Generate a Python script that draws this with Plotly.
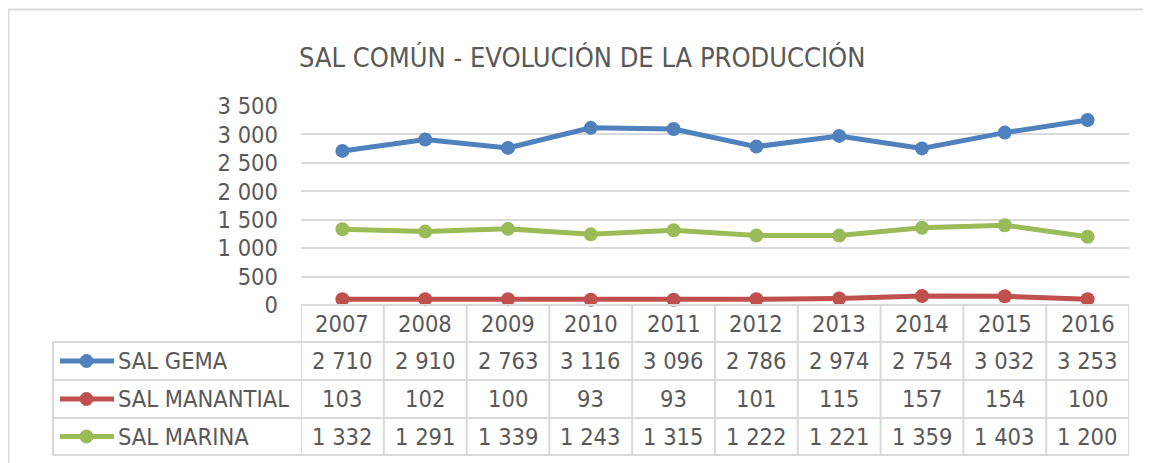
import plotly.graph_objects as go

years = ["2007", "2008", "2009", "2010", "2011", "2012", "2013", "2014", "2015", "2016"]
sal_gema = [2710, 2910, 2763, 3116, 3096, 2786, 2974, 2754, 3032, 3253]
sal_manantial = [103, 102, 100, 93, 93, 101, 115, 157, 154, 100]
sal_marina = [1332, 1291, 1339, 1243, 1315, 1222, 1221, 1359, 1403, 1200]
series_names = ["SAL GEMA", "SAL MANANTIAL", "SAL MARINA"]
series_values = [sal_gema, sal_manantial, sal_marina]
series_colors = ["#4f81bd", "#c0504d", "#9bbb59"]
y_ticks = [0, 500, 1000, 1500, 2000, 2500, 3000, 3500]
title_text = "SAL COMÚN - EVOLUCIÓN DE LA PRODUCCIÓN"

# page body has an 8px margin: the figure occupies the viewport minus that offset
OFF = 8
W, H = 1151 - OFF, 463 - OFF
FONT = "DejaVu Sans Condensed, Liberation Sans Narrow, Tahoma, DejaVu Sans, sans-serif"
TXT = "#595959"
GRID = "#d9d9d9"


def px(x):
    return (x - OFF) / W


def py(y):
    return 1 - (y - OFF) / H


def fmt(v):
    return f"{v:,}".replace(",", " ")


plot_left, plot_right = 301, 1129
plot_top, plot_bottom = 106, 305
row_lines = [305, 342, 380, 418, 455]
label_left = 53

fig = go.Figure()
for name, vals, col in zip(series_names, series_values, series_colors):
    fig.add_trace(go.Scatter(
        x=list(range(len(years))), y=vals, name=name, mode="lines+markers",
        line=dict(color=col, width=5), marker=dict(color=col, size=14),
        cliponaxis=False, showlegend=False,
    ))

shapes = []
# outer chart border (left and top edges visible)
shapes.append(dict(type="line", xref="paper", yref="paper", x0=px(8), x1=px(1151), y0=py(9.5), y1=py(9.5),
                   line=dict(color=GRID, width=2)))
shapes.append(dict(type="line", xref="paper", yref="paper", x0=px(8.5), x1=px(8.5), y0=py(9), y1=py(463),
                   line=dict(color=GRID, width=2)))
# table horizontal lines
shapes.append(dict(type="line", xref="paper", yref="paper", x0=px(plot_left), x1=px(plot_right),
                   y0=py(row_lines[0]), y1=py(row_lines[0]), line=dict(color=GRID, width=2)))
for yl in row_lines[1:]:
    shapes.append(dict(type="line", xref="paper", yref="paper", x0=px(label_left), x1=px(plot_right),
                       y0=py(yl), y1=py(yl), line=dict(color=GRID, width=2)))
# table vertical lines (column borders through the category scale)
for i in range(len(years) + 1):
    shapes.append(dict(type="line", xref="x", yref="paper", x0=i - 0.5, x1=i - 0.5,
                       y0=py(row_lines[0]), y1=py(row_lines[-1]), line=dict(color=GRID, width=2)))
shapes.append(dict(type="line", xref="paper", yref="paper", x0=px(label_left), x1=px(label_left),
                   y0=py(row_lines[1]), y1=py(row_lines[-1]), line=dict(color=GRID, width=2)))

annotations = []
FS = 23.5
hc = (row_lines[0] + row_lines[1]) / 2
for i, yr in enumerate(years):
    annotations.append(dict(x=i, y=py(hc), xref="x", yref="paper", text=yr, showarrow=False,
                            font=dict(size=FS, color=TXT, family=FONT), xanchor="center", yanchor="middle"))
for r, (name, vals, col) in enumerate(zip(series_names, series_values, series_colors)):
    rc = (row_lines[r + 1] + row_lines[r + 2]) / 2
    shapes.append(dict(type="line", xref="paper", yref="paper", x0=px(60), x1=px(114),
                       y0=py(rc), y1=py(rc), line=dict(color=col, width=5)))
    shapes.append(dict(type="circle", xref="paper", yref="paper", x0=px(80), x1=px(93),
                       y0=py(rc + 6.5), y1=py(rc - 6.5), fillcolor=col, line=dict(color=col, width=1)))
    annotations.append(dict(x=px(116), y=py(rc), xref="paper", yref="paper", text=name, showarrow=False,
                            font=dict(size=FS, color=TXT, family=FONT), xanchor="left", yanchor="middle"))
    for i, v in enumerate(vals):
        annotations.append(dict(x=i, y=py(rc), xref="x", yref="paper", text=fmt(v), showarrow=False,
                                font=dict(size=FS, color=TXT, family=FONT), xanchor="center", yanchor="middle"))

annotations.append(dict(x=px(582), y=py(57), xref="paper", yref="paper", text=title_text, showarrow=False,
                        font=dict(size=27, color=TXT, family=FONT), xanchor="center", yanchor="middle"))

fig.update_layout(
    width=W, height=H, autosize=False, margin=dict(l=0, r=0, t=0, b=0, pad=0),
    paper_bgcolor="white", plot_bgcolor="white",
    separators=", ",
    font=dict(family=FONT, color=TXT, size=FS),
    xaxis=dict(domain=[px(plot_left), px(plot_right)], range=[-0.5, len(years) - 0.5],
               showgrid=False, showticklabels=False, zeroline=False, showline=False, ticks="",
               automargin=False),
    yaxis=dict(domain=[py(plot_bottom), py(plot_top)], range=[0, 3500], tickvals=y_ticks,
               ticktext=[fmt(v) for v in y_ticks], showgrid=True, gridcolor=GRID, gridwidth=2,
               zeroline=False, showline=False, ticks="", ticklabelstandoff=22, automargin=False,
               tickfont=dict(size=FS, color=TXT, family=FONT)),
    shapes=shapes, annotations=annotations, showlegend=False,
)

fig.write_html("out.html")
